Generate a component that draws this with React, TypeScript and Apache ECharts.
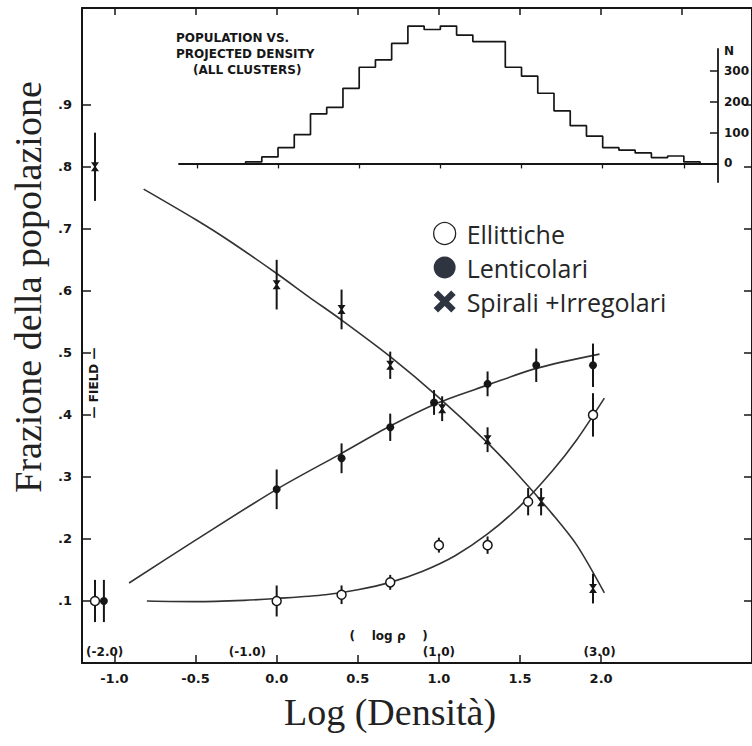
import React, { useEffect, useRef } from "react";
import * as echarts from "echarts";

// ---- axis ticks ----
const xTickValues = [-1.0, -0.5, 0.0, 0.5, 1.0, 1.5, 2.0];
const topTickValues = [-1.0, -0.5, 0.0, 0.5, 1.0, 1.5, 2.0, 2.5];
const yTickValues = [0.1, 0.2, 0.3, 0.4, 0.5, 0.6, 0.7, 0.8, 0.9];
const nTickValues = [0, 100, 200, 300];
const histTickValues = [-0.5, 0.0, 0.5, 1.0, 1.5, 2.0, 2.5];

// ---- data points (first entry = FIELD) ----
const ellX = [-1.12, 0.0, 0.4, 0.7, 1.0, 1.3, 1.55, 1.95];
const ellY = [0.10, 0.10, 0.11, 0.13, 0.19, 0.19, 0.26, 0.40];
const ellErr = [0.034, 0.025, 0.015, 0.012, 0.012, 0.014, 0.022, 0.035];

const lenX = [-1.065, 0.0, 0.4, 0.7, 0.97, 1.3, 1.6, 1.95];
const lenY = [0.10, 0.28, 0.33, 0.38, 0.42, 0.45, 0.48, 0.48];
const lenErr = [0.034, 0.032, 0.024, 0.022, 0.02, 0.02, 0.027, 0.035];

const spiX = [-1.12, 0.0, 0.4, 0.7, 1.02, 1.3, 1.63, 1.95];
const spiY = [0.80, 0.61, 0.57, 0.48, 0.41, 0.36, 0.26, 0.12];
const spiErr = [0.055, 0.04, 0.032, 0.022, 0.02, 0.02, 0.022, 0.024];

// ---- fitted curves ----
const ellFitX = [-0.8, -0.5, -0.2, 0.0, 0.3, 0.5, 0.7, 0.9, 1.1, 1.3, 1.5, 1.7, 1.85, 2.02];
const ellFitY = [0.100, 0.099, 0.101, 0.104, 0.110, 0.118, 0.130, 0.148, 0.173, 0.208, 0.253, 0.310, 0.360, 0.427];
const lenFitX = [-0.91, -0.5, 0.0, 0.4, 0.7, 1.0, 1.3, 1.6, 1.99];
const lenFitY = [0.129, 0.198, 0.280, 0.338, 0.382, 0.420, 0.448, 0.475, 0.498];
const spiFitX = [-0.82, -0.5, -0.3, 0.0, 0.2, 0.4, 0.7, 1.0, 1.3, 1.5, 1.7, 1.85, 2.02];
const spiFitY = [0.764, 0.715, 0.682, 0.628, 0.590, 0.553, 0.494, 0.428, 0.355, 0.300, 0.240, 0.190, 0.113];

// ---- histogram (population vs projected density) ----
const histBinStart = [-0.2, -0.1, 0.0, 0.1, 0.2, 0.3, 0.4, 0.5, 0.6, 0.7, 0.8, 0.9, 1.0, 1.1,
  1.2, 1.3, 1.4, 1.5, 1.6, 1.7, 1.8, 1.9, 2.0, 2.1, 2.2, 2.3, 2.4, 2.5];
const histCounts = [5, 21, 51, 93, 160, 181, 243, 311, 335, 388, 444, 433, 444, 415,
  394, 394, 311, 282, 227, 170, 122, 88, 51, 43, 34, 19, 24, 5];
const histBinWidth = 0.1;

// ---- secondary (log rho) labels ----
const logRhoLabels = ["(-2.0)", "(-1.0)", "(1.0)", "(3.0)"];
const logRhoPos = [-1.06, -0.18, 1.0, 1.99];

const INK = "#161616";
const LEG = "#2f3441";
const TICKFONT = "DejaVu Sans";
const hourglass = "path://M0,0L10,0L6,5L10,10L0,10L4,5Z";
const boldX = "path://M2,0L5,3L8,0L10,2L7,5L10,8L8,10L5,7L2,10L0,8L3,5L0,2Z";

const zip = (xs: number[], ys: number[]) => xs.map((x, i) => [x, ys[i]]);
const zip3 = (xs: number[], ys: number[], es: number[]) => xs.map((x, i) => [x, ys[i], es[i]]);

export default function App() {
  const ref = useRef<HTMLDivElement>(null);
  useEffect(() => {
    if (!ref.current) return;
    const chart = echarts.init(ref.current, undefined, { renderer: "svg" });

    const histPts: number[][] = [[histBinStart[0], 0]];
    histBinStart.forEach((s, i) => {
      histPts.push([s, histCounts[i]]);
      histPts.push([s + histBinWidth, histCounts[i]]);
    });
    histPts.push([histBinStart[histBinStart.length - 1] + histBinWidth, 0]);

    const errRender = (params: any, api: any) => {
      const x = api.value(0), y = api.value(1), e = api.value(2);
      const a = api.coord([x, y - e]);
      const b = api.coord([x, y + e]);
      return {
        type: "line",
        shape: { x1: a[0], y1: a[1], x2: b[0], y2: b[1] },
        style: { stroke: INK, lineWidth: 2 },
      };
    };

    const tickLabel = { fontFamily: TICKFONT, fontWeight: "bold", fontSize: 13, color: INK };

    const option: any = {
      animation: false,
      backgroundColor: "#ffffff",
      grid: [
        { left: 82, top: 8, width: 673, height: 655 },
        { left: 179, top: 49, width: 541, height: 133 },
      ],
      xAxis: [
        {
          type: "value", gridIndex: 0, position: "bottom", min: -1.2, max: 2.93,
          axisLine: { onZero: false, lineStyle: { color: INK, width: 2 } },
          axisTick: { inside: true, length: 8, customValues: xTickValues, lineStyle: { color: INK, width: 1.5 } },
          axisLabel: { customValues: xTickValues, formatter: (v: number) => v.toFixed(1), margin: 9, ...tickLabel },
          splitLine: { show: false },
        },
        {
          type: "value", gridIndex: 0, position: "top", min: -1.2, max: 2.93,
          axisLine: { onZero: false, lineStyle: { color: INK, width: 2 } },
          axisTick: { inside: true, length: 7, customValues: topTickValues, lineStyle: { color: INK, width: 1.5 } },
          axisLabel: { show: false },
          splitLine: { show: false },
        },
        {
          type: "value", gridIndex: 1, min: -0.61, max: 2.71,
          axisLine: { onZero: true, lineStyle: { color: INK, width: 1.8 } },
          axisTick: { inside: false, length: 5, customValues: histTickValues, lineStyle: { color: INK, width: 1.3 } },
          axisLabel: { show: false },
          splitLine: { show: false },
        },
      ],
      yAxis: [
        {
          type: "value", gridIndex: 0, position: "left", min: 0, max: 1.056,
          axisLine: { onZero: false, lineStyle: { color: INK, width: 2 } },
          axisTick: { inside: true, length: 9, customValues: yTickValues, lineStyle: { color: INK, width: 1.5 } },
          axisLabel: { customValues: yTickValues, formatter: (v: number) => "." + Math.round(v * 10), margin: 10, ...tickLabel },
          splitLine: { show: false },
        },
        {
          type: "value", gridIndex: 0, position: "right", min: 0, max: 1.056,
          axisLine: { onZero: false, lineStyle: { color: INK, width: 2 } },
          axisTick: { inside: true, length: 8, customValues: yTickValues, lineStyle: { color: INK, width: 1.5 } },
          axisLabel: { show: false },
          splitLine: { show: false },
        },
        {
          type: "value", gridIndex: 1, position: "right", min: -60, max: 370,
          axisLine: { onZero: false, lineStyle: { color: INK, width: 1.8 } },
          axisTick: { inside: true, length: 8, customValues: nTickValues, lineStyle: { color: INK, width: 1.5 } },
          axisLabel: {
            customValues: [0, 100, 200, 300, 362],
            formatter: (v: number) => (v === 362 ? "N" : String(v)),
            margin: 6, fontFamily: TICKFONT, fontWeight: "bold", fontSize: 12, color: INK,
          },
          splitLine: { show: false },
        },
      ],
      legend: {
        orient: "vertical", left: 428, top: 216, itemWidth: 22, itemHeight: 22, itemGap: 9,
        selectedMode: false,
        textStyle: { fontFamily: "Open Sans", fontSize: 25, color: "#262626", padding: [0, 0, 0, 6] },
        data: [
          { name: "Ellittiche", icon: "circle", itemStyle: { color: "#ffffff", borderColor: "#222", borderWidth: 1.3 } },
          { name: "Lenticolari", icon: "circle", itemStyle: { color: LEG, borderWidth: 0 } },
          { name: "Spirali +Irregolari", icon: boldX, itemStyle: { color: LEG, borderWidth: 0 } },
        ],
      },
      graphic: [
        { type: "text", left: 176, top: 32, style: { text: "POPULATION VS.", font: `bold 12px ${TICKFONT}`, fill: INK } },
        { type: "text", left: 176, top: 48, style: { text: "PROJECTED DENSITY", font: `bold 12px ${TICKFONT}`, fill: INK } },
        { type: "text", left: 193, top: 64, style: { text: "(ALL CLUSTERS)", font: `bold 12px ${TICKFONT}`, fill: INK } },
        {
          type: "text", x: 94, y: 383, rotation: Math.PI / 2,
          style: { text: "— FIELD —", font: `bold 12px ${TICKFONT}`, fill: INK, align: "center", verticalAlign: "middle" },
        },
        {
          type: "text", x: 28, y: 287, rotation: Math.PI / 2,
          style: { text: "Frazione della popolazione", font: "38px 'Liberation Serif'", fill: "#222", align: "center", verticalAlign: "middle" },
        },
        {
          type: "text", x: 390, y: 712,
          style: { text: "Log (Densità)", font: "38px 'Liberation Serif'", fill: "#222", align: "center", verticalAlign: "middle" },
        },
      ],
      series: [
        { name: "fitE", type: "line", xAxisIndex: 0, yAxisIndex: 0, data: zip(ellFitX, ellFitY), smooth: 0.3, showSymbol: false, symbol: "none", lineStyle: { color: "#333", width: 1.6 }, silent: true, z: 2 },
        { name: "fitL", type: "line", xAxisIndex: 0, yAxisIndex: 0, data: zip(lenFitX, lenFitY), smooth: 0.3, showSymbol: false, symbol: "none", lineStyle: { color: "#333", width: 1.6 }, silent: true, z: 2 },
        { name: "fitS", type: "line", xAxisIndex: 0, yAxisIndex: 0, data: zip(spiFitX, spiFitY), smooth: 0.3, showSymbol: false, symbol: "none", lineStyle: { color: "#333", width: 1.6 }, silent: true, z: 2 },
        { name: "errE", type: "custom", xAxisIndex: 0, yAxisIndex: 0, data: zip3(ellX, ellY, ellErr), renderItem: errRender, encode: { x: 0, y: 1 }, silent: true, z: 3 },
        { name: "errL", type: "custom", xAxisIndex: 0, yAxisIndex: 0, data: zip3(lenX, lenY, lenErr), renderItem: errRender, encode: { x: 0, y: 1 }, silent: true, z: 3 },
        { name: "errS", type: "custom", xAxisIndex: 0, yAxisIndex: 0, data: zip3(spiX, spiY, spiErr), renderItem: errRender, encode: { x: 0, y: 1 }, silent: true, z: 3 },
        { name: "Ellittiche", type: "scatter", xAxisIndex: 0, yAxisIndex: 0, data: zip(ellX, ellY), symbol: "circle", symbolSize: 9, itemStyle: { color: "#ffffff", borderColor: INK, borderWidth: 1.5, opacity: 1 }, z: 5 },
        { name: "Lenticolari", type: "scatter", xAxisIndex: 0, yAxisIndex: 0, data: zip(lenX, lenY), symbol: "circle", symbolSize: 8, itemStyle: { color: INK, opacity: 1 }, z: 5 },
        { name: "Spirali +Irregolari", type: "scatter", xAxisIndex: 0, yAxisIndex: 0, data: zip(spiX, spiY), symbol: hourglass, symbolSize: [8, 9], itemStyle: { color: INK, opacity: 1 }, z: 5 },
        {
          name: "logrho", type: "scatter", xAxisIndex: 0, yAxisIndex: 0, silent: true, symbolSize: 0,
          itemStyle: { opacity: 1, color: INK },
          data: [
            ...logRhoPos.map((x, i) => ({ value: [x, 0.018], label: { formatter: logRhoLabels[i] } })),
            { value: [0.69, 0.044], label: { formatter: "(    log ρ    )" } },
          ],
          label: { show: true, position: "inside", fontFamily: TICKFONT, fontWeight: "bold", fontSize: 12, color: INK, opacity: 1 },
          z: 4,
        },
        {
          name: "hist", type: "line", xAxisIndex: 2, yAxisIndex: 2, data: histPts, clip: false,
          showSymbol: false, symbol: "none", lineStyle: { color: INK, width: 1.7 }, silent: true, z: 3,
        },
      ],
    };
    chart.setOption(option);
    return () => chart.dispose();
  }, []);
  return <div ref={ref} style={{ position: "absolute", left: 0, top: 0, width: 752, height: 746 }} />;
}
